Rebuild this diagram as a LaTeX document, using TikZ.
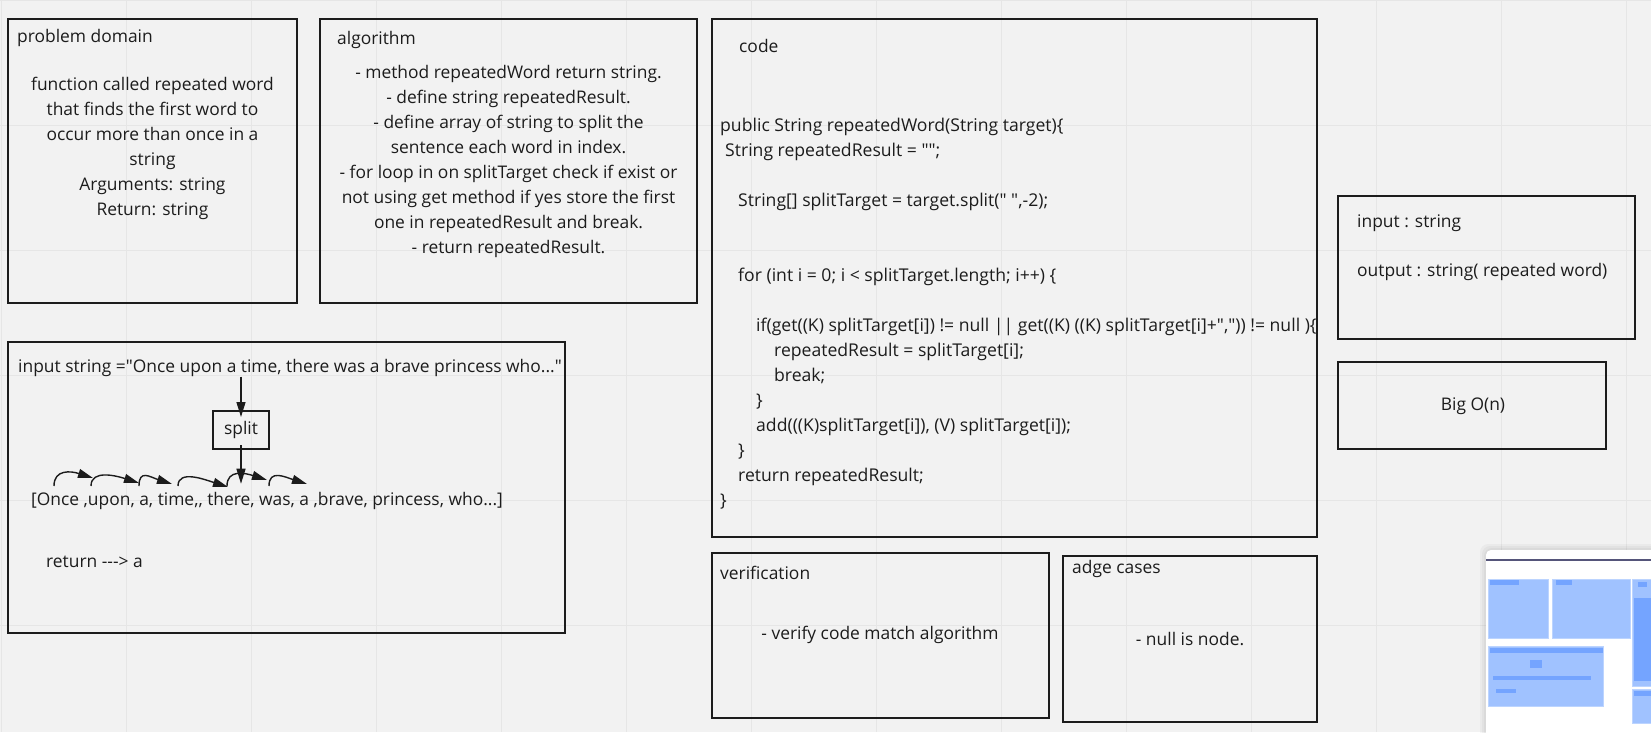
\documentclass[tikz,border=0pt]{standalone}
\usepackage{fontspec}
\newfontfamily\boardfont{Open Sans}
\usepackage{xcolor}
\usetikzlibrary{arrows.meta,positioning}

\definecolor{boardbg}{HTML}{F2F2F2}
\definecolor{gridgray}{HTML}{E6E6E6}
\definecolor{inkblack}{HTML}{1C1C1C}
\definecolor{mapblue}{HTML}{A0C2FF}
\definecolor{mapedge}{HTML}{BCD4FF}
\definecolor{mapdeep}{HTML}{74A4FF}
\definecolor{mapline}{HTML}{55557A}

\tikzset{
  card/.style={draw=inkblack, line width=2.4pt, inner sep=0pt, outer sep=0pt, anchor=north west},
  heading/.style={anchor=mid west, inner sep=0pt},
  bodytext/.style={align=center, inner sep=0pt, anchor=north},
  codefont/.style={font=\boardfont\fontsize{17.6}{25}\selectfont},
  flow/.style={draw=inkblack, line width=1.4pt, -{Triangle[length=15pt,width=9pt]}},
  mapbox/.style={fill=mapblue, draw=mapedge, line width=0.8pt},
  mapbar/.style={fill=mapdeep},
}

\begin{document}
\begin{tikzpicture}[x=1pt, y=-1pt, every node/.style={font=\boardfont\fontsize{17.4}{25}\selectfont, text=inkblack}]
  \useasboundingbox (0,0) rectangle (1651,732);
  \clip (0,0) rectangle (1651,732);
  \fill[boardbg] (0,0) rectangle (1651,732);
  % board grid
  \foreach \gx in {1,126,...,1626} \draw[gridgray, line width=1pt] (\gx,0) -- (\gx,732);
  \foreach \gy in {0,125,...,625} \draw[gridgray, line width=1pt] (0,\gy) -- (1651,\gy);

  % problem domain
  \node[card, minimum width=289pt, minimum height=284pt] (domain) at (8,19) {};
  \node[heading] (domaintitle) at (17,40) {problem domain};
  \node[bodytext] (domaintext) at (152.5,77) {function called repeated word\\that finds the first word to\\occur more than once in a\\string\\Arguments: string\\Return: string};

  % algorithm
  \node[card, minimum width=377pt, minimum height=284pt] (algo) at (320,19) {};
  \node[heading] (algotitle) at (337,42) {algorithm};
  \node[bodytext] (algotext) at (508.5,65) {- method repeatedWord return string.\\- define string repeatedResult.\\- define array of string to split the\\sentence each word in index.\\- for loop in on splitTarget check if exist or\\not using get method if yes store the first\\one in repeatedResult and break.\\- return repeatedResult.};

  % code
  \node[card, minimum width=605pt, minimum height=518pt] (code) at (712,19) {};
  \node[heading] (codetitle) at (739,50) {code};
  \node[bodytext, codefont, align=left, anchor=north west] (codetext) at (720,118) {public String repeatedWord(String target)\{\\
    \hspace*{5pt}String repeatedResult = "";\\[25pt]
    \hspace*{18pt}String[] splitTarget = target.split(" ",-2);\\[50pt]
    \hspace*{18pt}for (int i = 0; i < splitTarget.length; i++) \{\\[25pt]
    \hspace*{36pt}if(get((K) splitTarget[i]) != null || get((K) ((K) splitTarget[i]+",")) != null )\{\\
    \hspace*{54pt}repeatedResult = splitTarget[i];\\
    \hspace*{54pt}break;\\
    \hspace*{36pt}\}\\
    \hspace*{36pt}add(((K)splitTarget[i]), (V) splitTarget[i]);\\
    \hspace*{18pt}\}\\
    \hspace*{18pt}return repeatedResult;\\
    \}};

  % input / output and complexity
  \node[card, minimum width=297pt, minimum height=143pt] (spec) at (1338,196) {};
  \node[heading] (inspec) at (1357,225) {input : string};
  \node[heading] (outspec) at (1357,274) {output : string( repeated word)};
  \node[card, minimum width=268pt, minimum height=87pt] (bigo) at (1338,362) {};
  \node (bigotext) at (1473,406) {Big O(n)};

  % verification and edge cases
  \node[card, minimum width=337pt, minimum height=165pt] (verify) at (712,553) {};
  \node[heading] (verifytitle) at (720,577) {verification};
  \node (verifytext) at (880,635) {- verify code match algorithm};
  \node[card, minimum width=254pt, minimum height=166pt] (edge) at (1063,556) {};
  \node[heading] (edgetitle) at (1072,571) {adge cases};
  \node (edgetext) at (1190,639) {- null is node.};

  % worked example
  \node[card, minimum width=557pt, minimum height=291pt] (demo) at (8,342) {};
  \node[heading] (sentence) at (18,370) {input string ="Once upon a time, there was a brave princess who..."};
  \node[card, anchor=center, minimum width=56pt, minimum height=38pt] (split) at (241,430) {split};
  \node[heading] (wordlist) at (31,503) {[Once ,upon, a, time,, there, was, a ,brave, princess, who...]};
  \node[heading] (answer) at (46,565) {return ---> a};

  \draw[flow] (sentence.south -| split.north) -- ([yshift=-6pt]split.north);
  \draw[flow] ([yshift=4pt]split.south) -- ([yshift=8pt]wordlist.north -| split.south);
  \foreach \sx/\tx/\ty [count=\k] in {54/93/478, 91/139/483, 139/172/484, 178/228/487, 227/267/480, 269/307/484} {
    \coordinate (hopfrom\k) at (\sx,486);
    \coordinate (hopto\k) at (\tx,\ty);
    \draw[flow] (hopfrom\k) .. controls +(0,-17) and +(-22,-7) .. (hopto\k);
  }

  % board overview panel
  \foreach \s in {2,4,6} \fill[black, opacity=0.03, rounded corners=8pt] (1486-\s,550-\s) rectangle (1700,780);
  \fill[white, rounded corners=5pt] (1486,550) rectangle (1700,780);
  \draw[mapline, line width=2pt] (1486,560) -- (1651,560);
  \filldraw[mapbox] (1488,579) rectangle (1548,638);
  \filldraw[mapbox] (1552,579) rectangle (1630,638);
  \filldraw[mapbox] (1632,579) rectangle (1660,686);
  \filldraw[mapbox] (1488,646) rectangle (1603,706);
  \filldraw[mapbox] (1632,689) rectangle (1660,723);
  \fill[mapbar] (1490,580) rectangle (1519,585);
  \fill[mapbar] (1556,580) rectangle (1572,585);
  \fill[mapbar] (1638,582) rectangle (1647,587);
  \fill[mapdeep] (1634,598) rectangle (1660,681);
  \fill[mapbar] (1490,648) rectangle (1603,653);
  \fill[mapbar] (1530,660) rectangle (1542,668);
  \fill[mapbar] (1493,676) rectangle (1591,680);
  \fill[mapbar] (1496,689) rectangle (1516,693);
  \fill[mapbar] (1634,691) rectangle (1651,696);
\end{tikzpicture}
\end{document}
